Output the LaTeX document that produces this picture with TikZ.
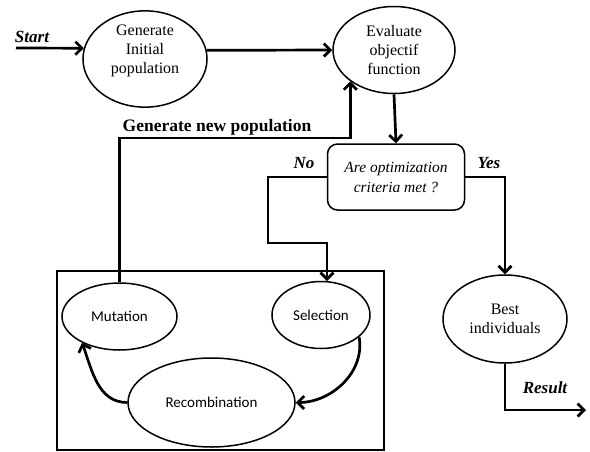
\documentclass[tikz,border=0pt]{standalone}
\usepackage{fontspec}
\setmainfont{Liberation Serif}
\newfontfamily\calibrifont{Carlito}
\usetikzlibrary{arrows.meta}
\usetikzlibrary{shapes.geometric}

\begin{document}
\begin{tikzpicture}[x=1pt,y=-1pt,
  state/.style={ellipse, draw, line width=1.5pt, inner sep=0pt, align=center, font=\fontsize{16}{19}\selectfont},
  operator/.style={ellipse, draw, line width=1.5pt, inner sep=0pt, font=\calibrifont\fontsize{15}{18}\selectfont},
  flow/.style={line width=2.7pt, -{Straight Barb[length=6.5pt,width=13pt]}},
  tag/.style={font=\bfseries\itshape\fontsize{17}{20}\selectfont}]
\useasboundingbox (0,0) rectangle (590,451);
\coordinate (in) at (16,48);
\coordinate (gnp) at (120,138);
\coordinate (nob) at (268,243);
\coordinate (out) at (586,410);
% draws the steps
\node[state, minimum width=124pt, minimum height=72pt, text depth=19.5pt] (gen) at (145,59) {Generate\\Initial\\population};
\node[state, minimum width=122pt, minimum height=87pt] (eval) at (394,50) {Evaluate\\objectif\\function};
\node[draw, rounded corners=10pt, line width=1.5pt, minimum width=137pt, minimum height=66pt, align=center, font=\itshape\fontsize{15.5}{20}\selectfont] (crit) at (396,177) {Are optimization\\criteria met ?};
\node[state, minimum width=124pt, minimum height=88pt] (best) at (505,319) {Best\\individuals};
% draws the loop
\draw[line width=1.3pt] (57,271) rectangle (384,450);
\node[operator, minimum width=115pt, minimum height=67pt] (mut) at (119.5,316.5) {Mutation};
\node[operator, minimum width=98pt, minimum height=67pt] (sel) at (321,315) {Selection};
\node[operator, minimum width=167pt, minimum height=89pt] (rec) at (211.5,402.5) {Recombination};
% labels
\node[tag] (start) at (32,37) {Start};
\node[tag] (no) at (304,163) {No};
\node[tag] (yes) at (489,163) {Yes};
\node[tag] (res) at (545,388) {Result};
\node[font=\bfseries\fontsize{17.5}{20}\selectfont] (newpop) at (217,127) {Generate new population};
% draws edges
\draw[flow] (in) -- (gen.170);
\draw[flow] (gen.8) -- (eval.west);
\draw[flow] (eval.south) -- (crit.north);
\draw[flow] (crit.west) -| (nob) -| (sel.80);
\draw[flow] (crit.east) -| (best.north);
\draw[flow] (mut.north) |- (gnp) -| (eval.south west);
\draw[flow] (best.south) |- (out);
\draw[flow] (sel.-30) to[out=-80, in=0] (rec.east);
\draw[flow] (rec.west) to[out=180, in=-70] (mut.215);
\end{tikzpicture}
\end{document}
